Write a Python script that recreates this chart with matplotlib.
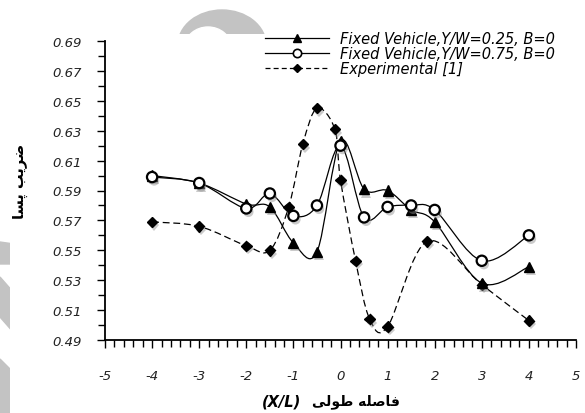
import matplotlib
matplotlib.use("Agg")
import matplotlib.pyplot as plt
import numpy as np
from matplotlib.path import Path
from matplotlib.patches import PathPatch, Ellipse, Polygon
from matplotlib.lines import Line2D
from matplotlib.ticker import MultipleLocator, FormatStrFormatter
from matplotlib.transforms import Bbox, TransformedBbox
from matplotlib import patheffects as pe

plt.rcParams["axes.unicode_minus"] = False

# data
x_sim = [-4, -3, -2, -1.5, -1, -0.5, 0, 0.5, 1, 1.5, 2, 3, 4]
cd_025 = [0.600, 0.595, 0.581, 0.579, 0.555, 0.549, 0.623, 0.591, 0.590, 0.577, 0.569, 0.528, 0.539]
cd_075 = [0.599, 0.595, 0.578, 0.588, 0.573, 0.580, 0.620, 0.572, 0.579, 0.580, 0.577, 0.543, 0.560]

x_exp = [-4, -3, -2, -1.5, -1.1, -0.8, -0.5, -0.12, 0, 0.32, 0.62, 1, 1.84, 3, 4]
cd_exp = [0.569, 0.566, 0.553, 0.550, 0.579, 0.621, 0.645, 0.631, 0.597, 0.543, 0.504, 0.499, 0.556, 0.527, 0.503]

x_ticks = [-5, -4, -3, -2, -1, 0, 1, 2, 3, 4, 5]
y_ticks = [0.49, 0.51, 0.53, 0.55, 0.57, 0.59, 0.61, 0.63, 0.65, 0.67, 0.69]

labels = ["Fixed Vehicle,Y/W=0.25, B=0",
          "Fixed Vehicle,Y/W=0.75, B=0",
          "Experimental [1]"]

# Persian labels in presentation forms, visual order
ylabel_fa = "\uFE8E\uFEB4\uFB58 \uFE90\uFBFE\uFEAE\uFEBF"
xlabel_fa = "\uFBFD\uFEDF\uFEEE\uFEC3 \uFEEA\uFEE0\uFEBB\uFE8E\uFED3"
xlabel_en = "(X/L)"

W, H = 585, 414


def px(x, y):
    # top-left pixel coords -> figure fraction
    return x / W, 1 - y / H


def smooth_path(xs, ys):
    # excel-like smoothed line (catmull-rom as cubic bezier)
    pts = np.column_stack([xs, ys]).astype(float)
    n = len(pts)
    verts = [pts[0]]
    codes = [Path.MOVETO]
    for i in range(n - 1):
        p0 = pts[max(i - 1, 0)]
        p1 = pts[i]
        p2 = pts[i + 1]
        p3 = pts[min(i + 2, n - 1)]
        verts += [p1 + (p2 - p0) / 6, p2 - (p3 - p1) / 6, p2]
        codes += [Path.CURVE4] * 3
    return Path(verts, codes)


fig = plt.figure(figsize=(W / 100, H / 100), dpi=100)
fig.patch.set_facecolor("white")

# grey watermark bits, only visible outside the chart area
wm = "#c3c3c3"
ftr = fig.transFigure
top_clip = TransformedBbox(Bbox([[0, 1 - 35 / H], [1, 1]]), ftr)
left_clip = TransformedBbox(Bbox([[0, 0], [10 / W, 1]]), ftr)

for cx, cy, w, h, col in [(222, 46, 88, 70, wm), (208, 48, 46, 40, "white")]:
    e = Ellipse(px(cx, cy), w / W, h / H, transform=ftr, color=col)
    e.set_clip_box(top_clip)
    fig.add_artist(e)

for poly in ([(0, 243), (14, 245), (14, 265), (0, 265)],
             [(0, 278), (14, 294), (14, 334), (0, 318)],
             [(0, 360), (14, 374), (14, 414), (0, 414)]):
    p = Polygon([px(a, b) for a, b in poly], closed=True, transform=ftr, color=wm)
    p.set_clip_box(left_clip)
    fig.add_artist(p)

ax = fig.add_axes([105 / W, (H - 341) / H, 471 / W, 299 / H])
ax.set_facecolor("none")
ax.set_xlim(-5, 5)
ax.set_ylim(0.49, 0.69)

for s in ["top", "right"]:
    ax.spines[s].set_visible(False)
for s in ["left", "bottom"]:
    ax.spines[s].set_linewidth(1.3)

ax.set_xticks(x_ticks)
ax.set_yticks(y_ticks)
ax.xaxis.set_minor_locator(MultipleLocator(0.2))
ax.yaxis.set_minor_locator(MultipleLocator(0.01))
ax.yaxis.set_major_formatter(FormatStrFormatter("%.2f"))
ax.tick_params(axis="both", which="both", direction="out", width=1.0, length=5)
ax.tick_params(axis="y", which="major", pad=11, length=6)
ax.tick_params(axis="x", which="major", pad=15, length=6)
for t in ax.get_xticklabels() + ax.get_yticklabels():
    t.set_fontstyle("italic")
    t.set_fontsize(9.5)
    t.set_color("#222222")

shadow = [pe.SimplePatchShadow(offset=(1.5, -2.5), shadow_rgbFace="0.55", alpha=0.45), pe.Normal()]
lw = 0.9
dash = (0, (5.5, 3))

ax.add_patch(PathPatch(smooth_path(x_exp, cd_exp), fill=False, ec="black", lw=lw, ls=dash, zorder=2))
ax.add_patch(PathPatch(smooth_path(x_sim, cd_025), fill=False, ec="black", lw=lw, zorder=2))
ax.add_patch(PathPatch(smooth_path(x_sim, cd_075), fill=False, ec="black", lw=lw, zorder=2))

ax.plot(x_exp, cd_exp, ls="none", marker="D", ms=5.3, mfc="black", mec="black",
        zorder=3, path_effects=shadow)
ax.plot(x_sim, cd_025, ls="none", marker="^", ms=7.3, mfc="black", mec="black",
        zorder=4, path_effects=shadow)
ax.plot(x_sim, cd_075, ls="none", marker="o", ms=7.4, mfc="white", mec="black", mew=1.6,
        zorder=5, path_effects=shadow)

handles = [
    Line2D([], [], color="black", lw=lw, marker="^", ms=6, mfc="black"),
    Line2D([], [], color="black", lw=lw, marker="o", ms=6, mfc="white", mew=1.2),
    Line2D([], [], color="black", lw=lw, ls=(0, (4, 2.5)), marker="D", ms=4.5, mfc="black"),
]
fig.legend(handles, labels, loc="upper left", bbox_to_anchor=px(265, 32),
           frameon=False, borderpad=0, borderaxespad=0, numpoints=1,
           handlelength=4.4, handletextpad=0.75, labelspacing=0.0,
           prop={"family": "DejaVu Sans", "style": "italic", "size": 10.5})

ax.set_ylabel(ylabel_fa, family="DejaVu Sans", fontweight="bold", fontsize=10.5)
ax.yaxis.set_label_coords(-0.163, 0.532)

# x label: latin part bold italic, persian part bold
fig.text(*px(262, 402), xlabel_en, family="DejaVu Sans", fontweight="bold",
         fontstyle="italic", fontsize=10.5, ha="left", va="center")
fig.text(*px(312, 402), xlabel_fa, family="DejaVu Sans", fontweight="bold",
         fontsize=10, ha="left", va="center")

fig.savefig("out.png", dpi=100, facecolor="white")
